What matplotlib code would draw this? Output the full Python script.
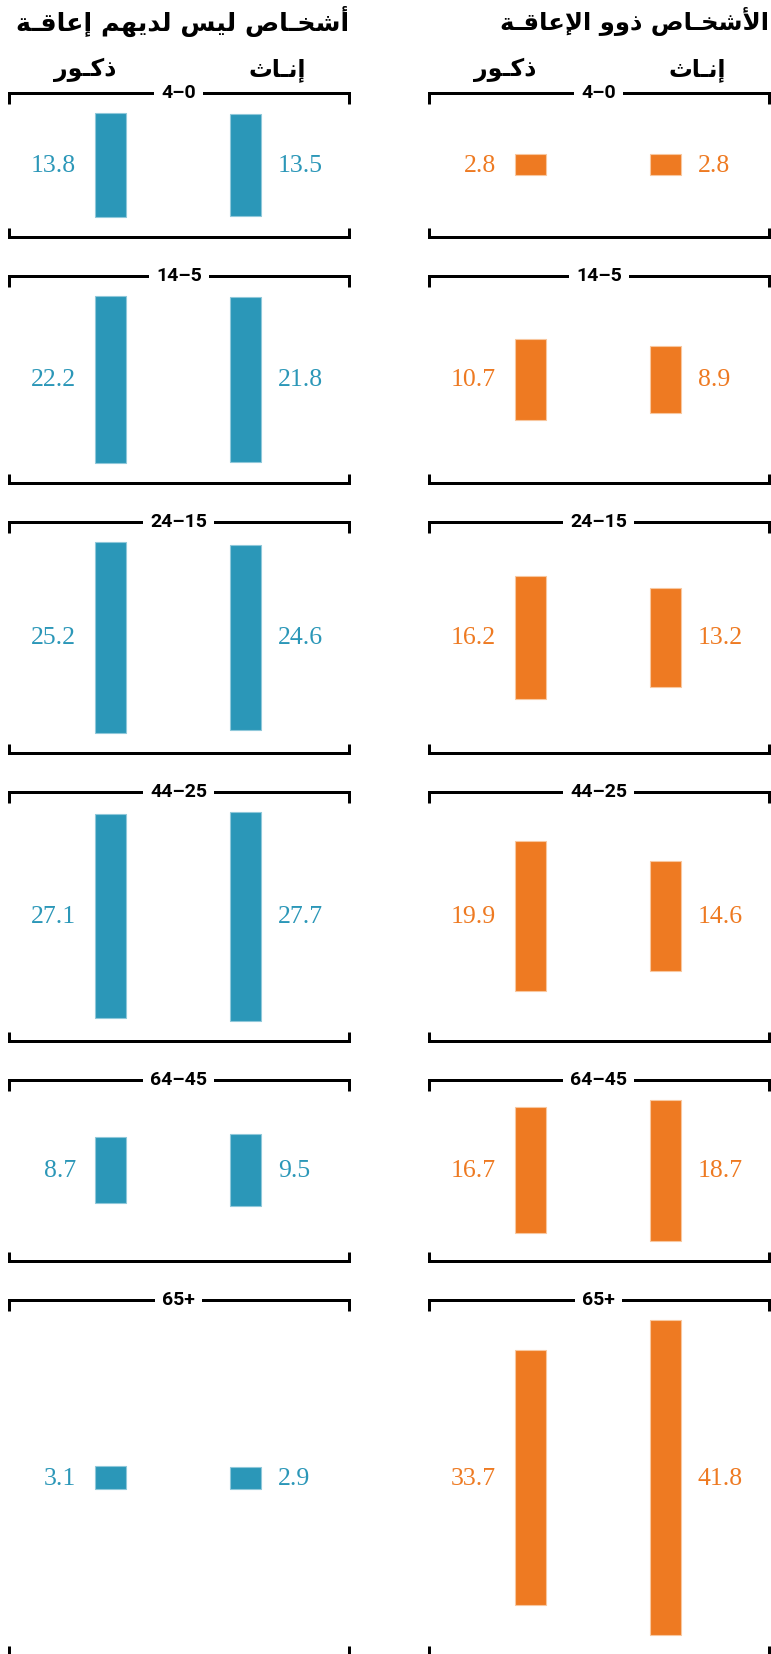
import matplotlib
matplotlib.use('Agg')
import matplotlib.pyplot as plt

# data (percent of each population by age group)
age_groups = ['4–0', '14–5', '24–15', '44–25', '64–45', '65+']
no_dis_male = [13.8, 22.2, 25.2, 27.1, 8.7, 3.1]
no_dis_female = [13.5, 21.8, 24.6, 27.7, 9.5, 2.9]
dis_male = [2.8, 10.7, 16.2, 19.9, 16.7, 33.7]
dis_female = [2.8, 8.9, 13.2, 14.6, 18.7, 41.8]

title_no_dis = 'أشخـاص ليس لديهم إعاقـة'
title_dis = 'الأشخـاص ذوو الإعاقـة'
label_male = 'ذكـور'
label_female = 'إنـاث'

BLUE = '#2b97b8'
ORANGE = '#ee7a22'

# ---- tiny arabic shaper (matplotlib does no shaping / RTL) ----
TATWEEL = '\u0640'
FORMS = {
    'ا': (0xFE8D, 0xFE8E), 'أ': (0xFE83, 0xFE84), 'إ': (0xFE87, 0xFE88),
    'آ': (0xFE81, 0xFE82), 'د': (0xFEA9, 0xFEAA), 'ذ': (0xFEAB, 0xFEAC),
    'ر': (0xFEAD, 0xFEAE), 'ز': (0xFEAF, 0xFEB0), 'و': (0xFEED, 0xFEEE),
    'ة': (0xFE93, 0xFE94),
    'ب': (0xFE8F, 0xFE90, 0xFE91, 0xFE92), 'ت': (0xFE95, 0xFE96, 0xFE97, 0xFE98),
    'ث': (0xFE99, 0xFE9A, 0xFE9B, 0xFE9C), 'خ': (0xFEA5, 0xFEA6, 0xFEA7, 0xFEA8),
    'س': (0xFEB1, 0xFEB2, 0xFEB3, 0xFEB4), 'ش': (0xFEB5, 0xFEB6, 0xFEB7, 0xFEB8),
    'ص': (0xFEB9, 0xFEBA, 0xFEBB, 0xFEBC), 'ع': (0xFEC9, 0xFECA, 0xFECB, 0xFECC),
    'ق': (0xFED5, 0xFED6, 0xFED7, 0xFED8), 'ك': (0xFED9, 0xFEDA, 0xFEDB, 0xFEDC),
    'ل': (0xFEDD, 0xFEDE, 0xFEDF, 0xFEE0), 'م': (0xFEE1, 0xFEE2, 0xFEE3, 0xFEE4),
    'ن': (0xFEE5, 0xFEE6, 0xFEE7, 0xFEE8), 'ه': (0xFEE9, 0xFEEA, 0xFEEB, 0xFEEC),
    'ي': (0xFEF1, 0xFEF2, 0xFEF3, 0xFEF4),
}
LAM_ALEF = {'آ': (0xFEF5, 0xFEF6), 'أ': (0xFEF7, 0xFEF8),
            'إ': (0xFEF9, 0xFEFA), 'ا': (0xFEFB, 0xFEFC)}


def joins_forward(c):
    return c == TATWEEL or (c in FORMS and len(FORMS[c]) == 4)


def shape(s):
    out = []
    i = 0
    while i < len(s):
        c = s[i]
        prev = s[i - 1] if i > 0 else ''
        nxt = s[i + 1] if i + 1 < len(s) else ''
        jp = joins_forward(prev)
        if c == 'ل' and nxt in LAM_ALEF:
            iso, fin = LAM_ALEF[nxt]
            out.append(chr(fin if jp else iso))
            i += 2
            continue
        if c not in FORMS:
            out.append(c)
            i += 1
            continue
        f = FORMS[c]
        if len(f) == 2:
            out.append(chr(f[1] if jp else f[0]))
        else:
            jn = nxt == TATWEEL or nxt in FORMS
            out.append(chr(f[[0, 2, 1, 3][jp * 2 + jn]]))
        i += 1
    return ''.join(reversed(out))


# ---- layout (pixels) ----
W, H = 771, 1654
SCALE = 7.55      # px per percentage point
PAD = 20
GAP = 39
TOP0 = 92.5
LW = 3 * 0.72

fig = plt.figure(figsize=(W / 100, H / 100), dpi=100)
ax = fig.add_axes([0, 0, 1, 1])
ax.set_xlim(0, W)
ax.set_ylim(H, 0)
ax.axis('off')

panels = [
    (0, no_dis_male, no_dis_female, BLUE, '#8fc8da', title_no_dis, 18.3),
    (420, dis_male, dis_female, ORANGE, '#f8c79f', title_dis, 17.6),
]

group_max = [max(a, b, c, d) for a, b, c, d in
             zip(no_dis_male, no_dis_female, dis_male, dis_female)]
tops = []
y = TOP0
for m in group_max:
    tops.append(y)
    y += 2 * PAD + SCALE * m + GAP

for off, males, females, col, edge, title, tsize in panels:
    x0, x1 = off + 9, off + 348.5
    xm, xf = off + 110.7, off + 245.3
    ax.text(x1 + 1, 21, shape(title), ha='right', va='center',
            fontsize=tsize, fontweight='bold', family='DejaVu Sans')
    ax.text(off + 85, 70, shape(label_male), ha='center', va='center',
            fontsize=17, fontweight='bold', family='DejaVu Sans')
    ax.text(off + 277, 70, shape(label_female), ha='center', va='center',
            fontsize=17, fontweight='bold', family='DejaVu Sans')
    for i, age in enumerate(age_groups):
        top = tops[i]
        gh = 2 * PAD + SCALE * group_max[i]
        bot = top + gh
        cy = top + gh / 2
        ax.plot([x0, x0, x1, x1], [top + 11, top, top, top + 11], color='black',
                lw=LW, solid_joinstyle='miter', solid_capstyle='butt')
        ax.plot([x0, x0, x1, x1], [bot - 9, bot, bot, bot - 9], color='black',
                lw=LW, solid_joinstyle='miter', solid_capstyle='butt')
        ax.text((x0 + x1) / 2, top, age, ha='center', va='center',
                fontsize=14, fontweight='bold', family='Roboto',
                bbox=dict(facecolor='white', edgecolor='none', pad=5))
        hm = SCALE * males[i]
        hf = SCALE * females[i]
        ax.bar([xm], [hm], bottom=[cy - hm / 2], width=30.7, color=col,
               edgecolor=edge, linewidth=0.8)
        ax.bar([xf], [hf], bottom=[cy - hf / 2], width=30.7, color=col,
               edgecolor=edge, linewidth=0.8)
        ax.text(xm - 34.5, cy + 1, f'{males[i]:.1f}', ha='right', va='center',
                fontsize=18.5, color=col, family='Liberation Serif')
        ax.text(xf + 32.5, cy + 1, f'{females[i]:.1f}', ha='left', va='center',
                fontsize=18.5, color=col, family='Liberation Serif')

fig.savefig('out.png', dpi=100)
